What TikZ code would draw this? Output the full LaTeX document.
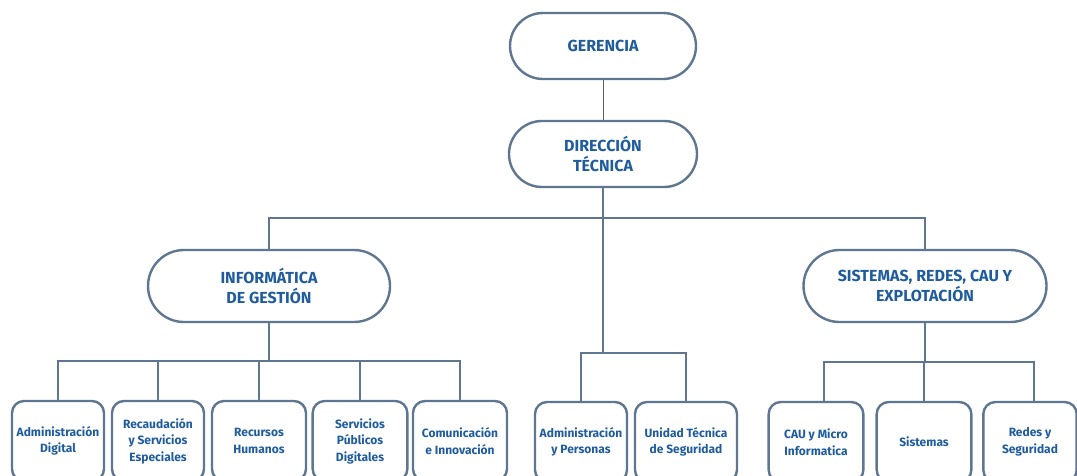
\documentclass[tikz,border=0pt]{standalone}
\usepackage{fontspec}
\setmainfont{Fira Sans}
\usetikzlibrary{shapes.misc}
\definecolor{txtblue}{HTML}{1F5C9E}
\definecolor{edge}{HTML}{5F7690}
\definecolor{thinline}{HTML}{606060}
\tikzset{
  top/.style={rounded rectangle, draw=edge, line width=1.8pt, fill=white,
    text=txtblue, align=center, font=\fontsize{12}{15}\selectfont\bfseries, inner sep=0pt},
  leaf/.style={rectangle, rounded corners=9pt, draw=edge, line width=1.8pt, fill=white,
    text=txtblue, align=center, font=\fontsize{9}{12.4}\selectfont\bfseries,
    minimum height=60pt, inner sep=0pt},
  conn/.style={draw=edge, line width=1.9pt},
  thin/.style={draw=thinline, line width=0.6pt}
}
\begin{document}
\begin{tikzpicture}[x=0.75pt, y=-0.75pt]
\useasboundingbox (0,0) rectangle (1077,475);
\clip (0,0) rectangle (1077,475);
\coordinate (j1) at (603,218);
\coordinate (j2) at (603,353);
\coordinate (j3) at (269,361);
\coordinate (j4) at (925,362);
% top nodes
\node[top, minimum width=139.5pt, minimum height=49.5pt] (ger) at (603,46) {GERENCIA};
\node[top, minimum width=141pt, minimum height=49.5pt] (dir) at (603,154) {DIRECCIÓN\\TÉCNICA};
\node[top, minimum width=181.5pt, minimum height=54pt] (info) at (269,286) {INFORMÁTICA\\DE GESTIÓN};
\node[top, minimum width=182.25pt, minimum height=54pt] (sis) at (925,286) {SISTEMAS, REDES, CAU Y\\EXPLOTACIÓN};
% leaves
\node[leaf, minimum width=69pt] (b1) at (58,441) {Administración\\Digital};
\node[leaf, minimum width=69pt] (b2) at (158,441) {Recaudación\\y Servicios\\Especiales};
\node[leaf, minimum width=70.5pt] (b3) at (259,441) {Recursos\\Humanos};
\node[leaf, minimum width=71pt] (b4) at (360,441) {Servicios\\Públicos\\Digitales};
\node[leaf, minimum width=70.5pt] (b5) at (460,441) {Comunicación\\e Innovación};
\node[leaf, minimum width=69pt] (m1) at (581,442) {Administración\\y Personas};
\node[leaf, minimum width=76.5pt] (m2) at (686,442) {Unidad Técnica\\de Seguridad};
\node[leaf, minimum width=71pt] (r1) at (816,442) {CAU y Micro\\Informatica};
\node[leaf, minimum width=71pt] (r2) at (924,442) {Sistemas};
\node[leaf, minimum width=70pt] (r3) at (1030,442) {Redes y\\Seguridad};
% lines
\draw[thin] (ger.south) -- (dir.north);
\draw[conn] (dir.south) -- (j1) -- (j2);
\draw[conn] (info.north) |- (sis.north |- j1) -- (sis.north);
\draw[conn] (m1.north) |- (m2.north |- j2) -- (m2.north);
\draw[conn] (info.south) -- (j3);
\draw[conn] (b1.north) |- (b5.north |- j3) -- (b5.north);
\draw[conn] (b2.north) -- (b2.north |- j3);
\draw[conn] (b3.north) -- (b3.north |- j3);
\draw[conn] (b4.north) -- (b4.north |- j3);
\draw[conn] (sis.south) -- (j4);
\draw[conn] ([xshift=6pt]r1.north) |- ([xshift=3pt]r3.north |- j4) -- ([xshift=3pt]r3.north);
\draw[conn] (r2.north) -- (r2.north |- j4);
\end{tikzpicture}
\end{document}
